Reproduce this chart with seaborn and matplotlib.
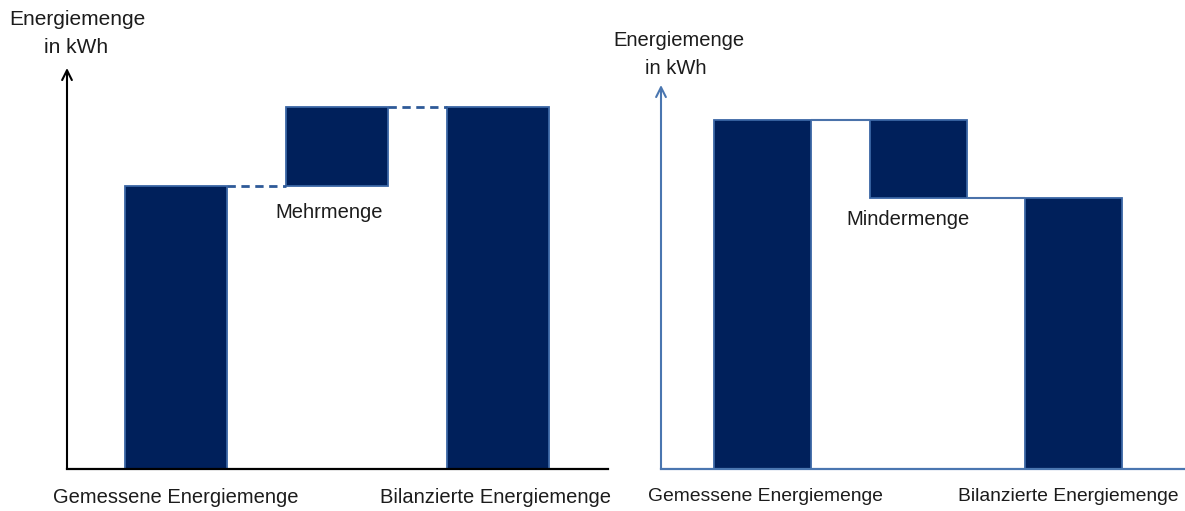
import numpy as np
import pandas as pd
import seaborn as sns
import matplotlib.pyplot as plt

# values (arbitrary energy units, axis top = ymax)
categories = ["Gemessene Energiemenge", "Differenz", "Bilanzierte Energiemenge"]

mehr_measured = 283
mehr_balanced = 362
mehr_ymax = 401

minder_measured = 349
minder_balanced = 271
minder_ymax = 384

tick_labels = ["Gemessene Energiemenge", "Bilanzierte Energiemenge"]

BAR = "#00205b"
EDGE = "#3a66a5"
TXT = "#1c1c1c"

sns.set_style("white")
plt.rcParams['font.family'] = ['Liberation Sans', 'DejaVu Sans']

fig = plt.figure(figsize=(11.85, 5.11), dpi=100)
ax1 = fig.add_axes([67 / 1185, 42 / 511, 541 / 1185, 401 / 511])
ax2 = fig.add_axes([661 / 1185, 42 / 511, 524 / 1185, 384 / 511])


def draw_panel(ax, measured, balanced, ymax, width, xlim, axis_color, tick_pos, tick_size,
               conn_style, conn_color, conn_lw):
    totals = pd.DataFrame({"cat": [categories[0], categories[2]], "val": [measured, balanced]})
    low, high = min(measured, balanced), max(measured, balanced)
    delta = pd.DataFrame({"cat": [categories[1]], "val": [high - low]})

    sns.barplot(data=totals, x="cat", y="val", order=categories, width=width, color=BAR,
                saturation=1, edgecolor=EDGE, linewidth=1.3, errorbar=None, ax=ax)
    # floating bar for the difference
    sns.barplot(data=delta, x="cat", y="val", order=categories, width=width, color=BAR,
                saturation=1, edgecolor=EDGE, linewidth=1.3, errorbar=None, bottom=low, ax=ax)

    half = width / 2
    ax.plot([0 + half, 1 - half], [measured, measured], color=conn_color, lw=conn_lw,
            linestyle=conn_style, solid_capstyle='butt')
    ax.plot([1 + half, 2 - half], [balanced, balanced], color=conn_color, lw=conn_lw,
            linestyle=conn_style, solid_capstyle='butt')

    ax.set_xlim(*xlim)
    ax.set_ylim(0, ymax)
    ax.set_xlabel("")
    ax.set_ylabel("")
    ax.set_yticks([])
    ax.set_xticks(tick_pos)
    ax.set_xticklabels(tick_labels, fontsize=tick_size, color=TXT)
    ax.tick_params(axis='x', length=0, pad=14)
    for s in ['top', 'right', 'left']:
        ax.spines[s].set_visible(False)
    ax.spines['bottom'].set_color(axis_color)
    ax.spines['bottom'].set_linewidth(1.6)
    ax.annotate('', xy=(0, 1), xytext=(0, 0), xycoords='axes fraction',
                arrowprops=dict(arrowstyle='->,head_length=0.7,head_width=0.35',
                                color=axis_color, lw=1.5, shrinkA=0, shrinkB=0))


draw_panel(ax1, mehr_measured, mehr_balanced, mehr_ymax, 0.635, (-0.678, 2.687), "black",
           [0, 1.985], 14.5, (0, (3, 2)), "#2e5a98", 2)
draw_panel(ax2, minder_measured, minder_balanced, minder_ymax, 0.624, (-0.653, 2.717), "#4a76b0",
           [0.016, 1.965], 13.9, '-', "#4a72aa", 1.5)

ax1.text(0.95, mehr_measured - 27, "Mehrmenge", ha='center', va='center', fontsize=14.5, color=TXT)
ax2.text(0.936, minder_balanced - 21, "Mindermenge", ha='center', va='center', fontsize=14.5, color=TXT)

fig.text(77 / 1185, 1 - 19 / 511, "Energiemenge", ha='center', va='center', fontsize=15, color=TXT)
fig.text(76 / 1185, 1 - 47 / 511, "in kWh", ha='center', va='center', fontsize=15, color=TXT)
fig.text(679 / 1185, 1 - 41 / 511, "Energiemenge", ha='center', va='center', fontsize=14.5, color=TXT)
fig.text(676 / 1185, 1 - 69 / 511, "in kWh", ha='center', va='center', fontsize=14.5, color=TXT)

fig.savefig("out.png", dpi=100)
